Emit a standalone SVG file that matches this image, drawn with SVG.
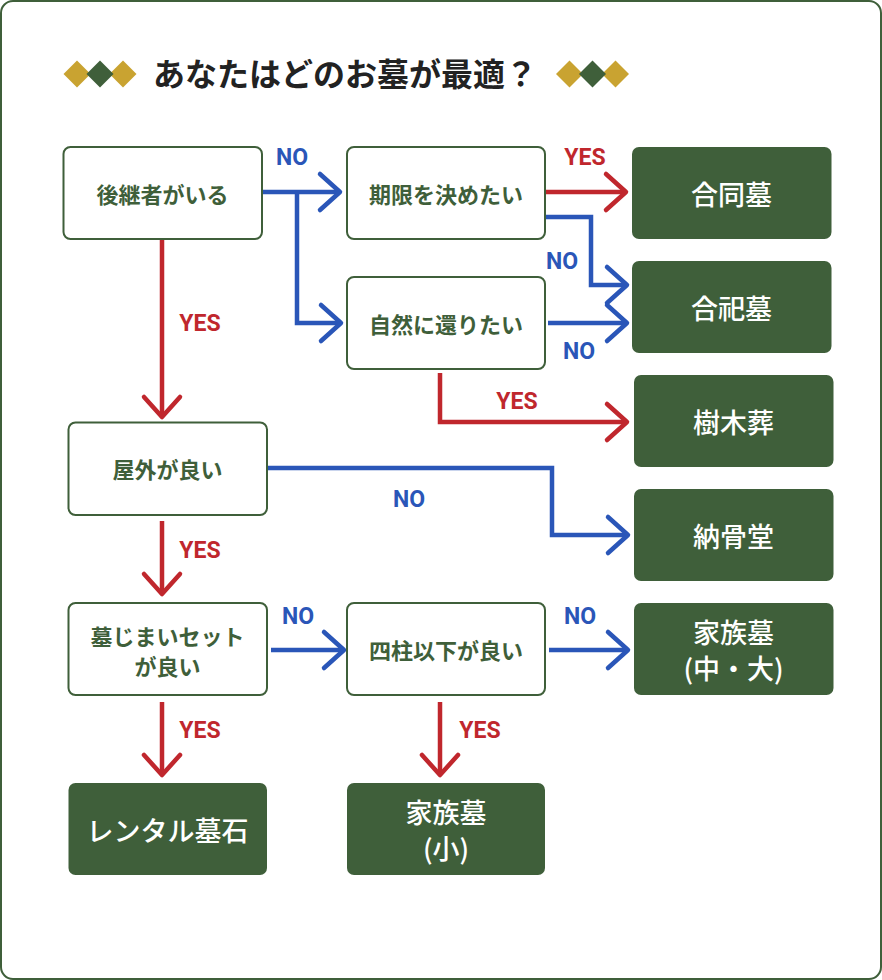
<svg xmlns="http://www.w3.org/2000/svg" width="882" height="980" viewBox="0 0 882 980">
<style>
.frame{fill:#fff;stroke:#3f5f3a;stroke-width:2}
.q{fill:#fff;stroke:#3f5f3a;stroke-width:2}
.r{fill:#3f5f3a;stroke:none}
.qt{font-family:"Noto Sans CJK JP","Noto Sans",sans-serif;font-size:22px;font-weight:700;fill:#3f5f3a;text-anchor:middle}
.rt{font-family:"Noto Sans CJK JP","Noto Sans",sans-serif;font-size:27px;font-weight:500;fill:#fff;text-anchor:middle}
.title{font-family:"Noto Sans CJK JP","Noto Sans",sans-serif;font-size:32px;font-weight:700;fill:#222}
.yes,.no{font-family:Roboto,"Liberation Sans",sans-serif;font-size:23px;font-weight:700;text-anchor:middle}
.yes{fill:#c0272d}
.no{fill:#2a56b8}
.cy{fill:none;stroke:#c0272d;stroke-width:4.5;stroke-linejoin:miter}
.cn{fill:none;stroke:#2a56b8;stroke-width:4.5;stroke-linejoin:miter}
.gold{fill:#c9a331}
.dg{fill:#3f5f3a}
</style>
<defs>
<marker id="ay" markerUnits="userSpaceOnUse" viewBox="-26 -24 32 48" markerWidth="32" markerHeight="48" refX="0" refY="0" orient="auto">
<path d="M-20,-18 L0,0 L-20,18" fill="none" stroke="#c0272d" stroke-width="4.5" stroke-linecap="round" stroke-linejoin="round"/>
</marker>
<marker id="an" markerUnits="userSpaceOnUse" viewBox="-26 -24 32 48" markerWidth="32" markerHeight="48" refX="0" refY="0" orient="auto">
<path d="M-20,-18 L0,0 L-20,18" fill="none" stroke="#2a56b8" stroke-width="4.5" stroke-linecap="round" stroke-linejoin="round"/>
</marker>
</defs>
<rect class="frame" x="1" y="1" width="880" height="978" rx="12"/>
<g id="title">
<polygon class="gold" points="77,60.5 90.5,74 77,87.5 63.5,74"/>
<polygon class="gold" points="123,60.5 136.5,74 123,87.5 109.5,74"/>
<polygon class="dg" points="100,60.5 113.5,74 100,87.5 86.5,74"/>
<text class="title" x="153" y="86">あなたはどのお墓が最適？</text>
<polygon class="gold" points="569.5,60.5 583,74 569.5,87.5 556,74"/>
<polygon class="gold" points="615.5,60.5 629,74 615.5,87.5 602,74"/>
<polygon class="dg" points="592.5,60.5 606,74 592.5,87.5 579,74"/>
</g>
<g id="connectors">
<path class="cn" d="M262,192 H340" marker-end="url(#an)"/>
<path class="cn" d="M297,192 V323 H341" marker-end="url(#an)"/>
<path class="cy" d="M162,239 V417" marker-end="url(#ay)"/>
<path class="cy" d="M545,192 H626" marker-end="url(#ay)"/>
<path class="cn" d="M545,217 H591 V285 H627" marker-end="url(#an)"/>
<path class="cn" d="M548,323 H627" marker-end="url(#an)"/>
<path class="cy" d="M440,373 V422 H627" marker-end="url(#ay)"/>
<path class="cn" d="M267,468 H552 V535 H628" marker-end="url(#an)"/>
<path class="cy" d="M162,521 V594" marker-end="url(#ay)"/>
<path class="cn" d="M271,650 H344" marker-end="url(#an)"/>
<path class="cn" d="M549,650 H628" marker-end="url(#an)"/>
<path class="cy" d="M162,702 V775" marker-end="url(#ay)"/>
<path class="cy" d="M440,702 V775" marker-end="url(#ay)"/>
<text class="no" x="292" y="165">NO</text>
<text class="yes" x="200" y="331">YES</text>
<text class="yes" x="585" y="165">YES</text>
<text class="no" x="562" y="269">NO</text>
<text class="no" x="579" y="359">NO</text>
<text class="yes" x="517" y="409">YES</text>
<text class="no" x="409" y="507">NO</text>
<text class="yes" x="200" y="558">YES</text>
<text class="no" x="298" y="624">NO</text>
<text class="no" x="580" y="624">NO</text>
<text class="yes" x="200" y="738">YES</text>
<text class="yes" x="480" y="738">YES</text>
</g>
<g id="n-successor">
<rect class="q" x="63.5" y="147" width="198.5" height="92" rx="7"/>
<text class="qt" x="162.5" y="203">後継者がいる</text>
</g>
<g id="n-period">
<rect class="q" x="347" y="147" width="198" height="92" rx="7"/>
<text class="qt" x="446" y="203">期限を決めたい</text>
</g>
<g id="n-nature">
<rect class="q" x="347" y="277" width="198" height="92" rx="7"/>
<text class="qt" x="446" y="333">自然に還りたい</text>
</g>
<g id="n-outdoor">
<rect class="q" x="68.5" y="422.5" width="198.5" height="92.5" rx="7"/>
<text class="qt" x="167.5" y="478">屋外が良い</text>
</g>
<g id="n-set">
<rect class="q" x="68.5" y="603" width="198.5" height="92" rx="7"/>
<text class="qt" x="167.5" y="644.5">墓じまいセット</text>
<text class="qt" x="167.5" y="674.5">が良い</text>
</g>
<g id="n-four">
<rect class="q" x="347" y="603" width="198" height="92" rx="7"/>
<text class="qt" x="446" y="659">四柱以下が良い</text>
</g>
<g id="r-goudou">
<rect class="r" x="632" y="147" width="199.5" height="92" rx="7"/>
<text class="rt" x="731.5" y="205">合同墓</text>
</g>
<g id="r-goushi">
<rect class="r" x="632" y="261" width="199.5" height="92" rx="7"/>
<text class="rt" x="731.5" y="319">合祀墓</text>
</g>
<g id="r-jumoku">
<rect class="r" x="634" y="375" width="199.5" height="92" rx="7"/>
<text class="rt" x="733.5" y="433">樹木葬</text>
</g>
<g id="r-noukotsu">
<rect class="r" x="634" y="489" width="199.5" height="92" rx="7"/>
<text class="rt" x="733.5" y="547">納骨堂</text>
</g>
<g id="r-family-large">
<rect class="r" x="634" y="603" width="199.5" height="92" rx="7"/>
<text class="rt" x="733.5" y="643">家族墓</text>
<text class="rt" x="733.5" y="679">(中・大)</text>
</g>
<g id="r-rental">
<rect class="r" x="68.5" y="783" width="198.5" height="92" rx="7"/>
<text class="rt" x="167.5" y="841">レンタル墓石</text>
</g>
<g id="r-family-small">
<rect class="r" x="347" y="783" width="198" height="92" rx="7"/>
<text class="rt" x="446" y="823">家族墓</text>
<text class="rt" x="446" y="859">(小)</text>
</g>
</svg>
